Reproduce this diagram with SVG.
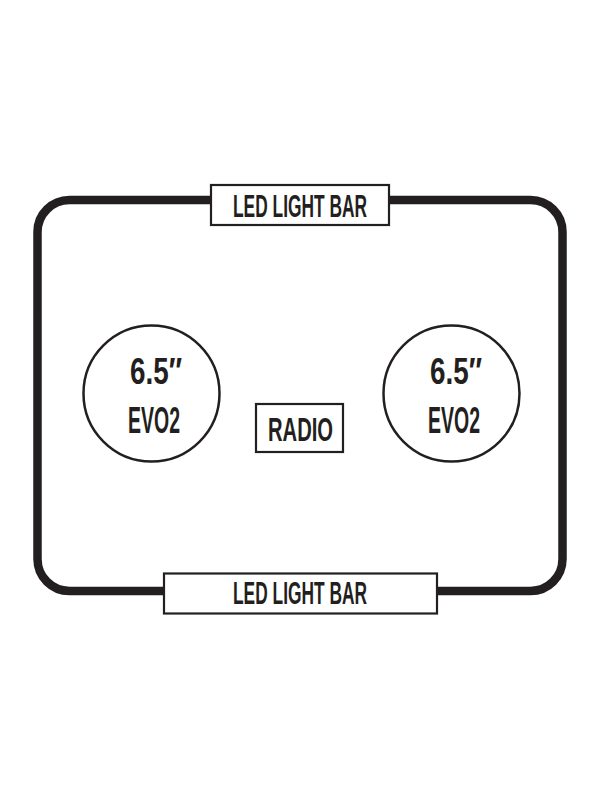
<svg xmlns="http://www.w3.org/2000/svg" width="600" height="799" viewBox="0 0 600 799">
<style>
.box{fill:#fff;stroke:#231f20;stroke-width:2.2}
.spk{fill:#fff;stroke:#231f20;stroke-width:2.5}
.t{font-family:"Liberation Sans Narrow","Liberation Sans",Arial,sans-serif;font-size:31px;font-weight:bold;fill:#231f20;text-anchor:start}
.s{font-size:36px}
.r{font-size:34px}
</style>
<rect width="600" height="799" fill="#fff"/>
<g id="connectors">
<rect x="37.5" y="200" width="525" height="391" rx="32" ry="32" fill="none" stroke="#231f20" stroke-width="8.5"/>
</g>
<g id="led-top">
<rect class="box" x="211" y="185" width="178" height="40"/>
<text class="t" x="233" y="216.5" textLength="134" lengthAdjust="spacingAndGlyphs">LED LIGHT BAR</text>
</g>
<g id="led-bottom">
<rect class="box" x="164" y="573.5" width="273" height="40"/>
<text class="t" x="233" y="604" textLength="134" lengthAdjust="spacingAndGlyphs">LED LIGHT BAR</text>
</g>
<g id="speaker-left">
<circle class="spk" cx="151.5" cy="393.5" r="68"/>
<text class="t s" x="130" y="384" textLength="52" lengthAdjust="spacingAndGlyphs">6.5″</text>
<text class="t s" x="128" y="433" textLength="52" lengthAdjust="spacingAndGlyphs">EVO2</text>
</g>
<g id="speaker-right">
<circle class="spk" cx="451.5" cy="393.5" r="68"/>
<text class="t s" x="430" y="384" textLength="52" lengthAdjust="spacingAndGlyphs">6.5″</text>
<text class="t s" x="428" y="433" textLength="52" lengthAdjust="spacingAndGlyphs">EVO2</text>
</g>
<g id="radio">
<rect class="box" x="256" y="404" width="87" height="48"/>
<text class="t r" x="268" y="441" textLength="65" lengthAdjust="spacingAndGlyphs">RADIO</text>
</g>
</svg>
